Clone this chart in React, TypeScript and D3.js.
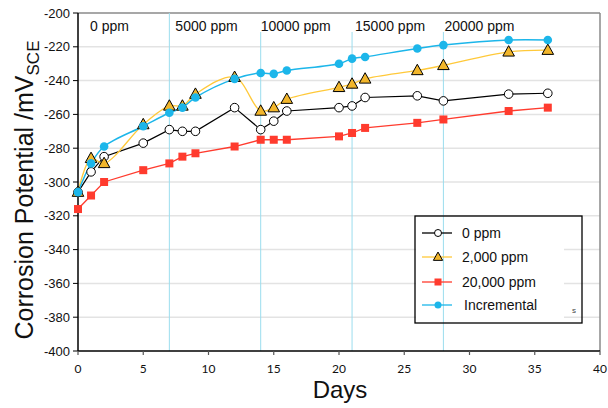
import React from "react";
import * as d3 from "d3";

const days = [0, 1, 2, 5, 7, 8, 9, 12, 14, 15, 16, 20, 21, 22, 26, 28, 33, 36];
const ppm0 = [-306, -294, -285, -277, -269, -270, -270, -256, -269, -264, -258, -256, -255, -250, -249, -252, -248, -247.5];
const ppm2000 = [-306, -286, -289, -266, -255, -255, -248, -238, -258, -256, -251, -244, -242, -239, -234, -231, -223, -222];
const ppm20000 = [-316, -308, -300, -293, -289, -285, -283, -279, -275, -275, -275, -273, -271, -268, -265, -263, -258, -256];
const incremental = [-306, -289, -279, -267, -259, -256, -250, -239, -235.5, -236, -234, -230, -227, -226, -221, -219, -216, -216];

const seriesNames = ["0 ppm", "2,000 ppm", "20,000 ppm", "Incremental"];
const stageDays = [7, 14, 21, 28];
const stageLabels = ["0 ppm", "5000 ppm", "10000 ppm", "15000 ppm", "20000 ppm"];
const stageLabelDays = [0, 7, 14, 21, 28];
const xTicks = [0, 5, 10, 15, 20, 25, 30, 35, 40];
const yTicks = [-200, -220, -240, -260, -280, -300, -320, -340, -360, -380, -400];

const W = 608, H = 408;
const L = 78, R = 600, T = 13, B = 351;

const BLUE = "#1CB6EA";
const RED = "#FF3B2E";
const YEL_FILL = "#F2B62B";
const YEL_LINE = "#FFC93A";

export default function App() {
  const x = d3.scaleLinear().domain([0, 40]).range([L, R]);
  const y = d3.scaleLinear().domain([-400, -200]).range([B, T]);

  const mk = (vals: number[], smooth: boolean) =>
    d3
      .line<number>()
      .x((_, i) => x(days[i]))
      .y((v) => y(v))
      .curve(smooth ? d3.curveCatmullRom.alpha(0.5) : d3.curveLinear)(vals) || "";

  const tri = (cx: number, cy: number, s: number) =>
    `M${cx},${cy - s * 0.62} L${cx + s * 0.58},${cy + s * 0.42} L${cx - s * 0.58},${cy + s * 0.42} Z`;

  const legX = 415, legY = 216, legW = 167, legH = 107;
  const rowY = [233, 257, 282, 305];
  const stageOffsets = [12, 6, 0, 3, 1];

  return (
    <svg width={W} height={H} style={{ position: "absolute", left: 0, top: 0, background: "#fff" }}
      fontFamily="'Liberation Sans', Arial, sans-serif">
      <rect x={0} y={0} width={W} height={H} fill="#fff" />
      {/* gridlines */}
      {yTicks.filter((t) => t !== -200 && t !== -400).map((t) => (
        <line key={t} x1={L} x2={R} y1={y(t)} y2={y(t)} stroke="#E3E3E3" strokeWidth={1.5} />
      ))}
      {/* legend background */}
      <rect x={legX + 1} y={legY + 1} width={148} height={legH - 2} fill="#fff" />
      {/* frame top/right */}
      <line x1={L} x2={R} y1={T} y2={T} stroke="#8A8A8A" strokeWidth={1.5} />
      <line x1={R} x2={R} y1={T} y2={B} stroke="#8A8A8A" strokeWidth={1.5} />
      {/* stage lines */}
      {stageDays.map((d, i) => (
        <line key={d} x1={x(d)} x2={x(d)} y1={i === 0 ? T : 32} y2={B} stroke="#9BDDEE" strokeWidth={1} />
      ))}
      {stageLabels.map((s, i) => (
        <text key={s} x={x(stageLabelDays[i]) + stageOffsets[i]} y={31} fontSize={14} fill="#111">{s}</text>
      ))}
      {/* axes */}
      <line x1={L} x2={L} y1={T} y2={B} stroke="#000" strokeWidth={1.5} />
      <line x1={L} x2={R} y1={B} y2={B} stroke="#000" strokeWidth={1.5} />
      {yTicks.map((t) => (
        <g key={t}>
          <line x1={L - 5} x2={L} y1={y(t)} y2={y(t)} stroke="#000" />
          <text x={L - 8} y={y(t) + 4.5} fontSize={13} textAnchor="end" fill="#111">{t}</text>
        </g>
      ))}
      {xTicks.map((t) => (
        <g key={t}>
          <line x1={x(t)} x2={x(t)} y1={B} y2={B + 4} stroke="#555" strokeWidth={1.2} />
          <text x={x(t)} y={B + 22} fontSize={12} textAnchor="middle" fill="#111"
            fontFamily="Lato, 'Open Sans', sans-serif">{t}</text>
        </g>
      ))}
      {/* series lines */}
      <path d={mk(ppm20000, false)} fill="none" stroke={RED} strokeWidth={1.3} />
      <path d={mk(ppm0, false)} fill="none" stroke="#000" strokeWidth={1.2} />
      <path d={mk(ppm2000, true)} fill="none" stroke={YEL_LINE} strokeWidth={1.3} />
      <path d={mk(incremental, true)} fill="none" stroke={BLUE} strokeWidth={1.5} />
      {/* markers */}
      {ppm20000.map((v, i) => (
        <rect key={"r" + i} x={x(days[i]) - 4} y={y(v) - 4} width={8} height={8} fill={RED} />
      ))}
      {ppm0.map((v, i) => (
        <circle key={"k" + i} cx={x(days[i])} cy={y(v)} r={4.3} fill="#fff" stroke="#000" strokeWidth={1} />
      ))}
      {ppm2000.map((v, i) => (
        <path key={"t" + i} d={tri(x(days[i]), y(v), 10)} fill={YEL_FILL} stroke="#000" strokeWidth={1} />
      ))}
      {incremental.map((v, i) => (
        <circle key={"b" + i} cx={x(days[i])} cy={y(v)} r={4.3} fill={BLUE} />
      ))}
      {/* legend */}
      <rect x={legX} y={legY} width={legW} height={legH} fill="none" stroke="#000" strokeWidth={1.3} />
      {seriesNames.map((n, i) => {
        const cy = rowY[i];
        const cx = 438;
        const col = [("#000"), YEL_LINE, RED, BLUE][i];
        return (
          <g key={n}>
            <line x1={422} x2={452} y1={cy} y2={cy} stroke={col} strokeWidth={1.3} />
            {i === 0 && <circle cx={cx} cy={cy} r={3.5} fill="#fff" stroke="#000" strokeWidth={1} />}
            {i === 1 && <path d={tri(cx, cy, 8)} fill={YEL_FILL} stroke="#000" strokeWidth={1} />}
            {i === 2 && <rect x={cx - 3.5} y={cy - 3.5} width={7} height={7} fill={RED} />}
            {i === 3 && <circle cx={cx} cy={cy} r={3.5} fill={BLUE} />}
            <text x={i === 3 ? 464 : 462} y={cy + 5} fontSize={14} fill="#111">{n}</text>
          </g>
        );
      })}
      <text x={572} y={313} fontSize={8} fill="#444">s</text>
      {/* axis titles */}
      <text x={340} y={398} fontSize={24} textAnchor="middle" fill="#111">Days</text>
      <text transform={`translate(33, ${(T + B) / 2 + 8}) rotate(-90)`} fontSize={25} textAnchor="middle" fill="#111">
        Corrosion Potential /mV<tspan fontSize={17} dy={6}>SCE</tspan>
      </text>
    </svg>
  );
}
